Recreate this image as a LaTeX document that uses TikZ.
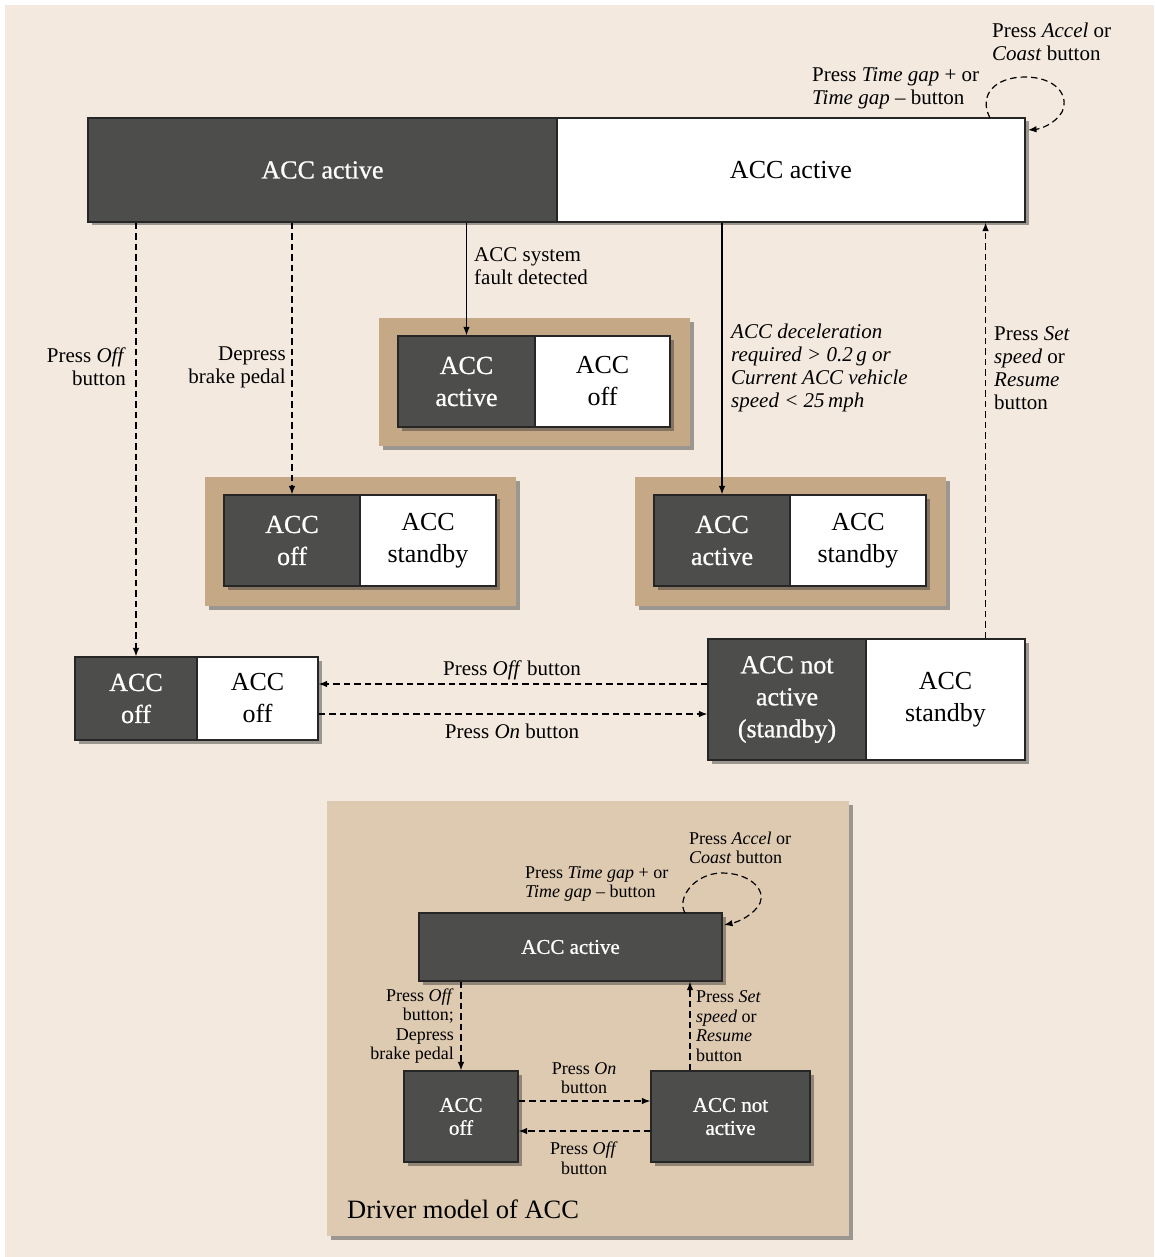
\documentclass[tikz,border=0pt]{standalone}
\usepackage{fontspec}
\setmainfont{Liberation Serif}
\newfontfamily\boxwhitefont[FakeBold=0.8]{Liberation Serif}
\usetikzlibrary{shadows,arrows.meta,calc}
\definecolor{bgc}{HTML}{F3E9DF}
\definecolor{tanc}{HTML}{C5A886}
\definecolor{panelc}{HTML}{DECAB0}
\definecolor{darkc}{HTML}{4D4D4B}
\definecolor{edgec}{HTML}{262626}
\begin{document}
\begin{tikzpicture}[x=1pt,y=-1pt,
 sh/.style={drop shadow={shadow xshift=3.5pt,shadow yshift=-3.5pt,opacity=0.45,fill=black!80}},
 dkbox/.style={sh,draw=edgec,line width=1.2pt,fill=darkc,text=white,inner sep=0pt,align=center,font=\fontsize{26}{32}\boxwhitefont},
 wtbox/.style={dkbox,fill=white,text=black,font=\fontsize{26}{32}\rmfamily},
 smdk/.style={dkbox,font=\fontsize{21}{23}\boxwhitefont},
 framebox/.style={sh,fill=tanc,inner sep=0pt},
 lbl/.style={font=\fontsize{21}{23}\selectfont,inner sep=0pt},
 slbl/.style={font=\fontsize{18}{19.5}\selectfont,inner sep=0pt},
 solidarr/.style={line width=1.2pt,-{Latex[length=8.5pt,width=6.5pt]}},
 dasharr/.style={solidarr,dash pattern=on 6.5pt off 4pt},
]
\useasboundingbox (0,0) rectangle (1154,1257);
\fill[white] (0,0) rectangle (1154,1257);
\fill[bgc] (5,5) rectangle (1154,1257);

% top boxes
\node[dkbox,minimum width=469pt,minimum height=104pt] (topL) at (322.5,170) {ACC active};
\node[wtbox,minimum width=468pt,minimum height=104pt] (topR) at (791,170) {ACC active};

% fault box
\node[framebox,minimum width=311pt,minimum height=128pt] (frA) at (534.5,382) {};
\node[dkbox,minimum width=137pt,minimum height=91pt] (aL) at (466.5,381.5) {ACC\\active};
\node[wtbox,minimum width=135pt,minimum height=91pt] (aR) at (602.5,381.5) {ACC\\off};

% brake box
\node[framebox,minimum width=311pt,minimum height=129pt] (frB) at (360.5,541.5) {};
\node[dkbox,minimum width=136pt,minimum height=91pt] (bL) at (292,540.5) {ACC\\off};
\node[wtbox,minimum width=136pt,minimum height=91pt] (bR) at (428,540.5) {ACC\\standby};

% decel box
\node[framebox,minimum width=311pt,minimum height=129pt] (frC) at (790.5,541.5) {};
\node[dkbox,minimum width=136pt,minimum height=91pt] (cL) at (722,540.5) {ACC\\active};
\node[wtbox,minimum width=136pt,minimum height=91pt] (cR) at (858,540.5) {ACC\\standby};

% off box
\node[dkbox,minimum width=122pt,minimum height=83pt] (dL) at (136,698.5) {ACC\\off};
\node[wtbox,minimum width=121pt,minimum height=83pt] (dR) at (257.5,698.5) {ACC\\off};

% standby box
\node[dkbox,minimum width=158pt,minimum height=121pt] (eL) at (787,699.5) {ACC not\\active\\(standby)};
\node[wtbox,minimum width=159pt,minimum height=121pt] (eR) at (945.5,699.5) {ACC\\standby};

% connectors top part
\draw[dasharr] (dL.north |- topL.south) -- (dL.north);
\draw[dasharr] (bL.north |- topL.south) -- (bL.north);
\draw[solidarr] (aL.north |- topL.south) -- (aL.north);
\draw[solidarr] (cL.north |- topL.south) -- (cL.north);
\coordinate (eUp) at ($(eR.north)!0.5!(eR.north east)$);
\draw[dasharr] (eUp) -- (eUp |- topR.south);
\draw[dasharr] (eL.west |- 0,684) -- (dR.east |- 0,684);
\draw[dasharr] (dR.east |- 0,714) -- (eL.west |- 0,714);
\coordinate (loopS) at (990,118);
\coordinate (loopE) at (1028,130);
\draw[dasharr] (loopS) .. controls (978,95) and (995,77) .. (1025,77) .. controls (1055,77) and (1070,95) .. (1062,112) .. controls (1055,124) and (1040,129) .. (loopE);

% labels top part
\node[lbl,anchor=east,align=right] (l1) at (126,367) {Press \textit{Off}\\button};
\node[lbl,anchor=east,align=right] (l2) at (286,367) {Depress\\brake pedal};
\node[lbl,anchor=west,align=left] (l3) at (474,266) {ACC system\\fault detected};
\node[lbl,anchor=west,align=left,font=\fontsize{21}{23}\selectfont\itshape] (l4) at (731,368) {ACC deceleration\\required > 0.2\,g or\\Current ACC vehicle\\speed < 25\,mph};
\node[lbl,anchor=west,align=left] (l5) at (994,368) {Press \textit{Set}\\\textit{speed} or\\\textit{Resume}\\button};
\node[lbl] (l6) at (512,670) {Press \textit{Off} button};
\node[lbl] (l7) at (512,731) {Press \textit{On} button};
\node[lbl,anchor=west,align=left] (l8) at (812,88) {Press \textit{Time gap} + or\\\textit{Time gap} -- button};
\node[lbl,anchor=west,align=left] (l9) at (992,42) {Press \textit{Accel} or\\\textit{Coast} button};

% bottom panel
\node[sh,fill=panelc,minimum width=522pt,minimum height=435pt,inner sep=0pt] (panel) at (588,1018.5) {};
\node[smdk,minimum width=303pt,minimum height=68pt] (fA) at (570.5,947) {ACC active};
\node[smdk,minimum width=114pt,minimum height=91pt] (fOff) at (461,1116.5) {ACC\\off};
\node[smdk,minimum width=159pt,minimum height=91pt] (fNot) at (730.5,1116.5) {ACC not\\active};

\draw[dasharr] (fOff.north |- fA.south) -- (fOff.north);
\draw[dasharr] (fNot.north -| 690,0) -- (fA.south -| 690,0);
\draw[dasharr] (fOff.east |- 0,1101) -- (fNot.west |- 0,1101);
\draw[dasharr] (fNot.west |- 0,1131) -- (fOff.east |- 0,1131);
\coordinate (bloopS) at (685,913);
\coordinate (bloopE) at (724,925);
\draw[dasharr] (bloopS) .. controls (676,898) and (695,873) .. (722,873) .. controls (750,873) and (766,890) .. (760,903) .. controls (754,915) and (738,922) .. (bloopE);

\node[slbl,anchor=east,align=right] (m1) at (454,1026) {Press \textit{Off}\\button;\\Depress\\brake pedal};
\node[slbl,anchor=west,align=left] (m2) at (696,1026) {Press \textit{Set}\\\textit{speed} or\\\textit{Resume}\\button};
\node[slbl,align=center] (m3) at (584,1078) {Press \textit{On}\\button};
\node[slbl,align=center] (m4) at (584,1158) {Press \textit{Off}\\button};
\node[slbl,anchor=west,align=left] (m5) at (525,884) {Press \textit{Time gap} + or\\\textit{Time gap} -- button};
\node[slbl,anchor=west,align=left] (m6) at (689,848) {Press \textit{Accel} or\\\textit{Coast} button};
\node[font=\fontsize{26.5}{30}\selectfont,inner sep=0pt,anchor=west] (cap) at (347,1209) {Driver model of ACC};
\end{tikzpicture}
\end{document}
